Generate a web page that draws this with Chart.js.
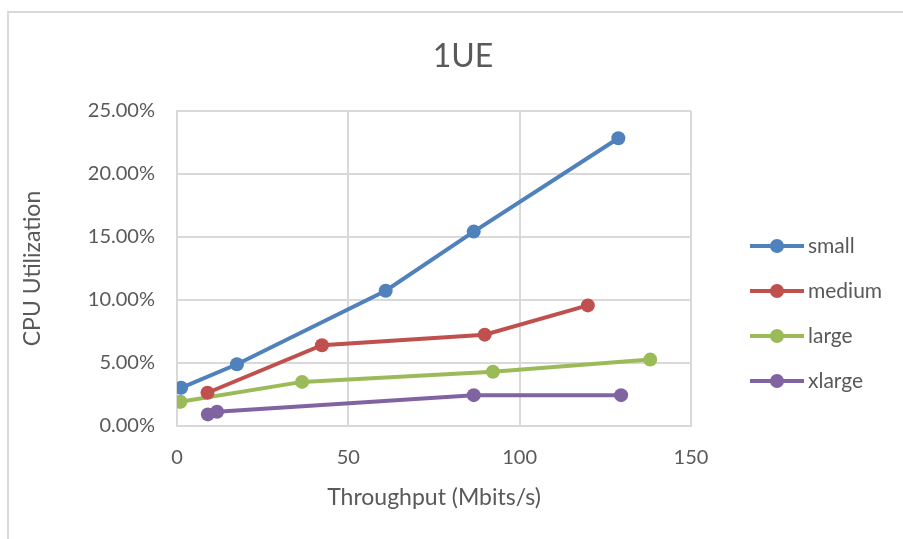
<!DOCTYPE html>
<html>
<head>
<meta charset="utf-8">
<style>
  html, body { margin: 0; padding: 0; background: #fff; }
  #chart { display: block; }
</style>
<script src="https://cdn.jsdelivr.net/npm/chart.js@4"></script>
</head>
<body>
<canvas id="chart" width="903" height="539"></canvas>
<script>
// throughput (Mbits/s) and CPU utilization (%)
const chartTitle = "1UE";
const seriesNames = ["small", "medium", "large", "xlarge"];
const smallX = [1.2, 17.5, 60.9, 86.6, 128.8];
const smallY = [3.03, 4.9, 10.74, 15.43, 22.84];
const mediumX = [8.9, 42.3, 89.8, 119.9];
const mediumY = [2.64, 6.41, 7.25, 9.57];
const largeX = [1.0, 36.5, 92.2, 138.1];
const largeY = [1.92, 3.5, 4.3, 5.27];
const xlargeX = [9.0, 11.7, 86.6, 129.6];
const xlargeY = [0.92, 1.13, 2.45, 2.45];
const xTicks = [0, 50, 100, 150];
const yTicks = [0, 5, 10, 15, 20, 25];

const colors = ["#4F81BD", "#C0504D", "#9BBB59", "#8064A2"];
const textColor = "#595959";
const gridColor = "#D9D9D9";
const fontFamily = "Lato, 'Open Sans', sans-serif";

function pts(xs, ys) {
    return xs.map((x, i) => ({ x: x, y: ys[i] }));
}

const seriesData = [pts(smallX, smallY), pts(mediumX, mediumY), pts(largeX, largeY), pts(xlargeX, xlargeY)];

const datasets = seriesNames.map((name, i) => ({
    label: name,
    data: seriesData[i],
    borderColor: colors[i],
    backgroundColor: colors[i],
    borderWidth: 4,
    pointRadius: 7,
    pointHoverRadius: 7,
    pointBorderWidth: 0,
    showLine: true,
    tension: 0
}));

// outer chart frame (cut off by the picture on the right and bottom) and title
// centred on the whole chart box rather than on the plot
const framePlugin = {
    id: "frame",
    beforeDraw(chart) {
        const ctx = chart.ctx;
        ctx.save();
        ctx.fillStyle = "#fff";
        ctx.fillRect(0, 0, chart.width, chart.height);
        ctx.strokeStyle = gridColor;
        ctx.lineWidth = 2;
        ctx.strokeRect(8, 12, 1000, 1000);
        ctx.fillStyle = textColor;
        ctx.font = "32px " + fontFamily;
        ctx.textAlign = "center";
        ctx.textBaseline = "middle";
        ctx.fillText(chartTitle, 463, 57);
        ctx.restore();
    }
};

// excel-style legend: line with a dot in the middle, stacked on the right
const legendPlugin = {
    id: "sideLegend",
    afterDraw(chart) {
        const ctx = chart.ctx;
        ctx.save();
        ctx.font = "21px " + fontFamily;
        ctx.textBaseline = "middle";
        ctx.textAlign = "left";
        chart.data.datasets.forEach((ds, i) => {
            const y = 246 + i * 45;
            ctx.strokeStyle = ds.borderColor;
            ctx.lineWidth = 4;
            ctx.beginPath();
            ctx.moveTo(750, y);
            ctx.lineTo(804, y);
            ctx.stroke();
            ctx.fillStyle = ds.backgroundColor;
            ctx.beginPath();
            ctx.arc(777, y, 7, 0, Math.PI * 2);
            ctx.fill();
            ctx.fillStyle = textColor;
            ctx.fillText(ds.label, 808, y);
        });
        ctx.restore();
    }
};

new Chart(document.getElementById("chart"), {
    type: "scatter",
    data: { datasets },
    options: {
        responsive: false,
        animation: false,
        layout: { padding: { left: 0, right: 212, top: 111, bottom: 0 } },
        plugins: {
            legend: { display: false },
            tooltip: { enabled: false },
            title: { display: false }
        },
        scales: {
            x: {
                type: "linear",
                min: 0,
                max: 150,
                afterBuildTicks: scale => { scale.ticks = xTicks.map(v => ({ value: v })); },
                afterFit: scale => { scale.height = 113; },
                grid: { color: gridColor, lineWidth: 2, drawTicks: false },
                border: { color: gridColor, width: 2 },
                ticks: {
                    color: textColor,
                    padding: 20,
                    font: { family: fontFamily, size: 20 }
                },
                title: {
                    display: true,
                    text: "Throughput (Mbits/s)",
                    color: textColor,
                    font: { family: fontFamily, size: 23 },
                    padding: { top: 0, bottom: 28 }
                }
            },
            y: {
                type: "linear",
                min: 0,
                max: 25,
                afterBuildTicks: scale => { scale.ticks = yTicks.map(v => ({ value: v })); },
                afterFit: scale => { scale.width = 177; },
                grid: { color: gridColor, lineWidth: 2, drawTicks: false },
                border: { color: gridColor, width: 2 },
                ticks: {
                    color: textColor,
                    padding: 22,
                    font: { family: fontFamily, size: 20 },
                    callback: v => v.toFixed(2) + "%"
                },
                title: {
                    display: true,
                    text: "CPU Utilization",
                    color: textColor,
                    font: { family: fontFamily, size: 23 },
                    padding: { top: 19, bottom: 0 }
                }
            }
        }
    },
    plugins: [framePlugin, legendPlugin]
});
</script>
</body>
</html>
